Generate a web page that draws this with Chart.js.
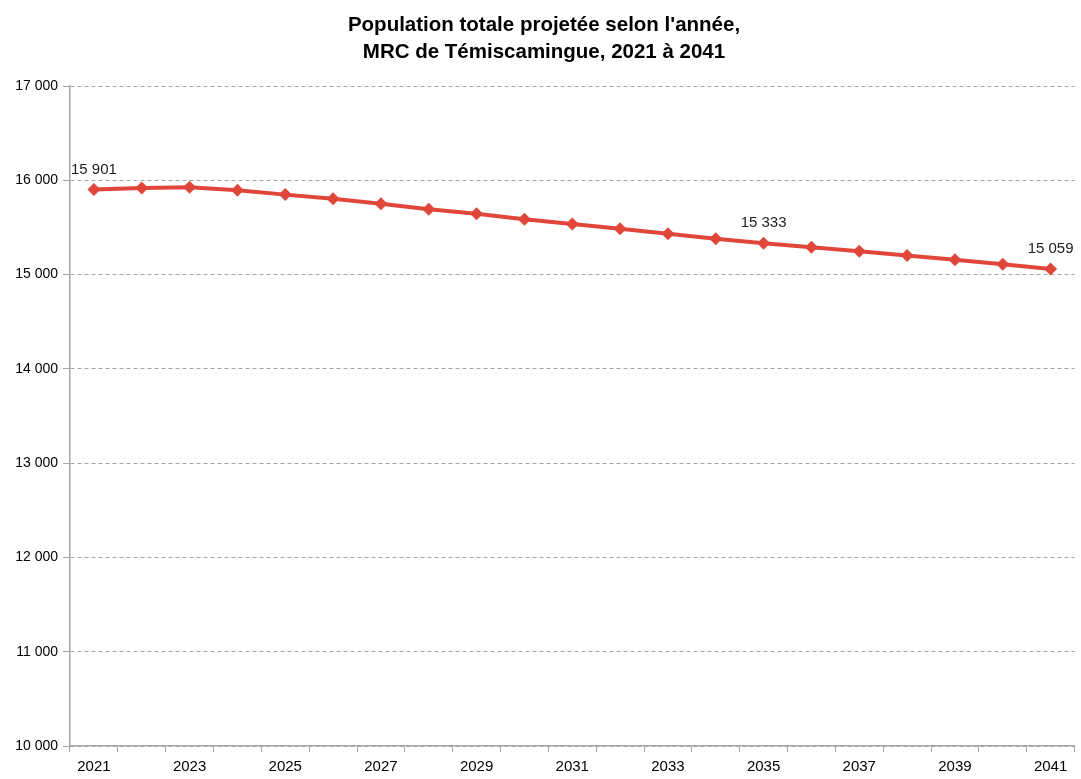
<!DOCTYPE html>
<html lang="fr">
<head>
<meta charset="utf-8">
<script src="https://cdn.jsdelivr.net/npm/chart.js@4/dist/chart.umd.min.js"></script>
<style>
    html, body { margin: 0; padding: 0; background: #ffffff; }
    #wrap { position: relative; width: 1081px; height: 779px; }
</style>
</head>
<body>
<div id="wrap"><canvas id="popChart"></canvas></div>
<script>
// Données
const years = ['2021', '2022', '2023', '2024', '2025', '2026', '2027', '2028', '2029', '2030',
    '2031', '2032', '2033', '2034', '2035', '2036', '2037', '2038', '2039', '2040', '2041'];
const population = [15901, 15918, 15925, 15895, 15848, 15803, 15750, 15692, 15644, 15586,
    15536, 15486, 15433, 15380, 15333, 15290, 15248, 15203, 15157, 15110, 15059];
const labelledYears = ['2021', '2035', '2041'];
const titleLines = ["Population totale projetée selon l'année,", 'MRC de Témiscamingue, 2021 à 2041'];

const FONT = '"Liberation Sans", Arial, sans-serif';
const LINE_COLOR = '#e0473a';
const GRID_COLOR = '#a6a6a6';

const formatNumber = (v) => String(v).replace(/\B(?=(\d{3})+(?!\d))/g, ' ');

// Titre centré sur la toile
const titlePlugin = {
    id: 'titleLines',
    afterDraw(chart) {
        const ctx = chart.ctx;
        ctx.save();
        ctx.font = 'bold 20.5px ' + FONT;
        ctx.fillStyle = '#000000';
        ctx.textAlign = 'center';
        ctx.textBaseline = 'alphabetic';
        ctx.fillText(titleLines[0], 544, 31);
        ctx.fillText(titleLines[1], 544, 58);
        ctx.restore();
    },
};

// Étiquettes de valeur sur certains points
const valueLabels = {
    id: 'valueLabels',
    afterDatasetsDraw(chart) {
        const ctx = chart.ctx;
        const meta = chart.getDatasetMeta(0);
        ctx.save();
        ctx.font = '15px ' + FONT;
        ctx.fillStyle = '#222222';
        ctx.textAlign = 'center';
        ctx.textBaseline = 'alphabetic';
        years.forEach((year, i) => {
            if (!labelledYears.includes(year)) return;
            const pt = meta.data[i];
            ctx.fillText(formatNumber(population[i]), pt.x, pt.y - 16);
        });
        ctx.restore();
    },
};

new Chart(document.getElementById('popChart'), {
    type: 'line',
    data: {
        labels: years,
        datasets: [{
            data: population,
            borderColor: LINE_COLOR,
            backgroundColor: LINE_COLOR,
            borderWidth: 4,
            tension: 0,
            pointStyle: 'rectRot',
            pointRadius: 6.5,
            pointBorderWidth: 0,
            pointBackgroundColor: LINE_COLOR,
        }],
    },
    options: {
        responsive: true,
        maintainAspectRatio: false,
        animation: false,
        layout: {
            padding: { top: 86, right: 3, left: 0, bottom: 0 },
        },
        plugins: {
            legend: { display: false },
            tooltip: { enabled: false },
            title: { display: false },
        },
        scales: {
            x: {
                offset: true,
                afterFit: (scale) => { scale.height = 33; },
                grid: {
                    offset: true,
                    drawOnChartArea: false,
                    drawTicks: true,
                    tickLength: 6,
                    color: GRID_COLOR,
                },
                border: { color: GRID_COLOR, width: 1.5 },
                ticks: {
                    autoSkip: false,
                    maxRotation: 0,
                    padding: 6,
                    color: '#000000',
                    font: { family: FONT, size: 15 },
                    callback: (val, i) => (i % 2 === 0 ? years[i] : ''),
                },
            },
            y: {
                min: 10000,
                max: 17000,
                afterFit: (scale) => { scale.width = 70; },
                grid: {
                    color: GRID_COLOR,
                    tickLength: 7,
                    tickBorderDash: [],
                },
                border: { color: GRID_COLOR, width: 1.5, dash: [4, 3] },
                ticks: {
                    stepSize: 1000,
                    padding: 5,
                    color: '#000000',
                    font: { family: FONT, size: 14 },
                    callback: (v) => formatNumber(v),
                },
            },
        },
    },
    plugins: [titlePlugin, valueLabels],
});
</script>
</body>
</html>
